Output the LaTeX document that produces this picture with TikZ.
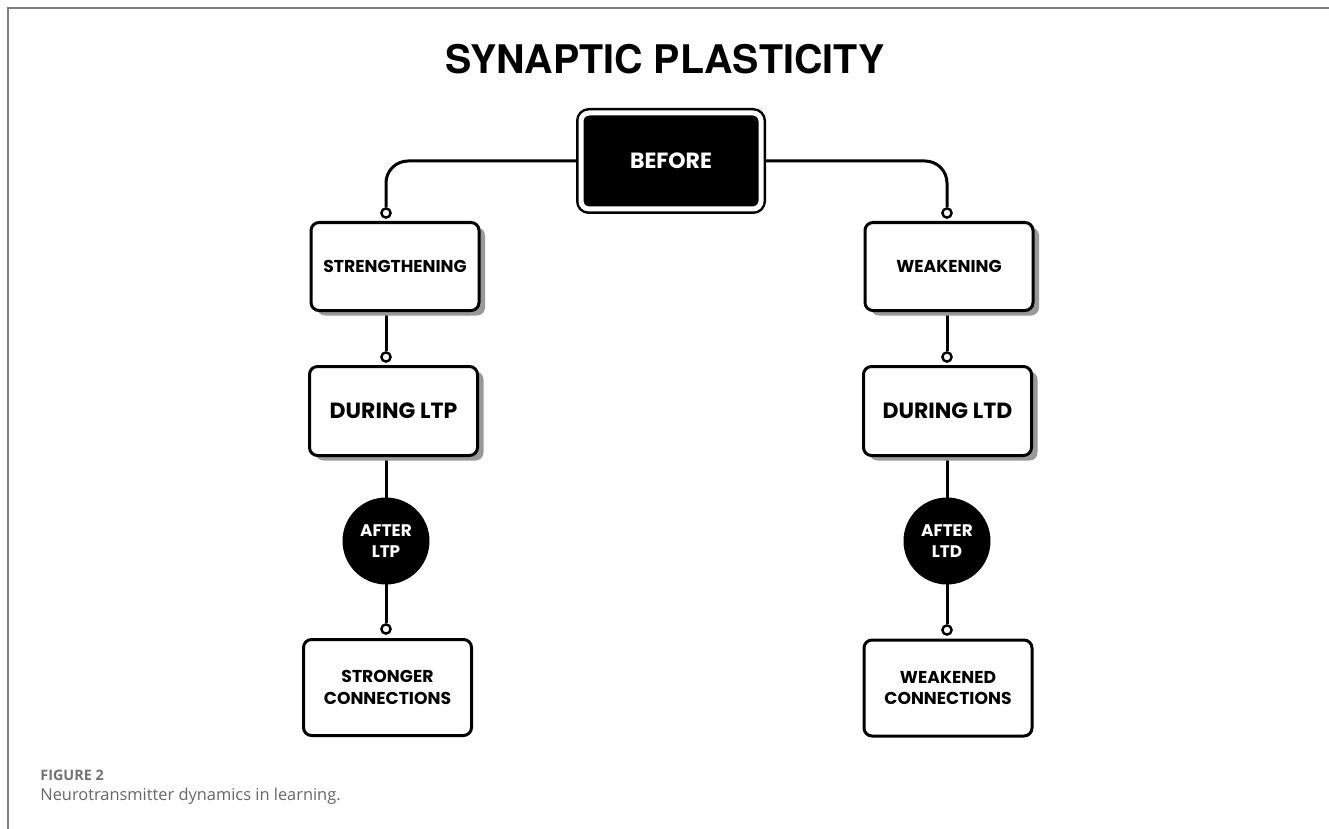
\documentclass[tikz,border=0pt]{standalone}
\usepackage{fontspec}
\newfontfamily\titlefont{TeX Gyre Heros}
\newfontfamily\labelfont{Poppins}
\newfontfamily\capfont{Open Sans}
\usetikzlibrary{positioning,shadows,backgrounds}

\begin{document}
\begin{tikzpicture}[
    x=0.5pt, y=-0.5pt,
    box/.style={draw, line width=1.5pt, rounded corners=4pt, fill=white,
        minimum width=84pt, minimum height=44pt, align=center, inner sep=2pt,
        font=\labelfont\bfseries\fontsize{8.6}{10.6}\selectfont},
    shadowbox/.style={box, drop shadow={shadow xshift=3pt, shadow yshift=-2.5pt,
        fill=black!40, opacity=1}},
    bigtext/.style={font=\labelfont\bfseries\fontsize{11}{13}\selectfont},
    dot/.style={circle, draw, fill=white, line width=1.2pt, inner sep=0pt,
        minimum size=4.6pt},
    stage/.style={circle, fill=black, text=white, minimum size=43.5pt,
        inner sep=0pt, align=center,
        font=\labelfont\bfseries\fontsize{8.4}{10.6}\selectfont},
    link/.style={line width=1.5pt},
]
\useasboundingbox (0,0) rectangle (1329,829);

% frame of the figure
\draw[black!50, line width=1pt] (8,829) -- (8,8) -- (1329,8);

\node[font=\titlefont\bfseries\fontsize{19.7}{22}\selectfont] (title) at (665,59) {SYNAPTIC PLASTICITY};

% top box
\node[draw, fill=black, double=white, double distance=2.5pt, line width=1.25pt,
    rounded corners=4pt, minimum width=90pt, minimum height=48pt, text=white,
    bigtext] (before) at (671,161) {BEFORE};

% left branch
\node[dot] (dotA) at (386,213) {};
\node[shadowbox] (strength) at (395,266.5) {STRENGTHENING};
\node[dot] (dotC) at (386,357) {};
\node[shadowbox, bigtext, minimum height=44.5pt] (ltp) at (393.5,411) {DURING LTP};
\node[stage] (afterltp) at (386,541) {AFTER\\LTP};
\node[dot] (dotE) at (386,629) {};
\node[box, minimum height=48pt] (stronger) at (387.5,687.5) {STRONGER\\CONNECTIONS};

% right branch
\node[dot] (dotB) at (947,213) {};
\node[shadowbox] (weaken) at (949,266.5) {WEAKENING};
\node[dot] (dotD) at (947,357) {};
\node[shadowbox, bigtext, minimum height=44.5pt] (ltd) at (947.5,411) {DURING LTD};
\node[stage] (afterltd) at (947,541) {AFTER\\LTD};
\node[dot] (dotF) at (947,630) {};
\node[box, minimum height=48pt] (weakened) at (948,688) {WEAKENED\\CONNECTIONS};

% connectors
\begin{scope}[on background layer]
\draw[link, rounded corners=11pt] (before.west) -| (dotA);
\draw[link, rounded corners=11pt] (before.east) -| (dotB);
\draw[link] (strength.south -| dotA) -- (dotC);
\draw[link] (ltp.south -| dotC) -- (dotE);
\draw[link] (weaken.south -| dotB) -- (dotD);
\draw[link] (ltd.south -| dotD) -- (dotF);
\end{scope}

% caption
\node[anchor=base west, inner sep=0pt, text=black!55, font=\capfont\bfseries\fontsize{7.2}{8}\selectfont] (fig) at (40,780) {FIGURE 2};
\node[anchor=base west, inner sep=0pt, text=black!60, font=\capfont\fontsize{8.2}{10}\selectfont] (cap) at (40,800) {Neurotransmitter dynamics in learning.};
\end{tikzpicture}
\end{document}
